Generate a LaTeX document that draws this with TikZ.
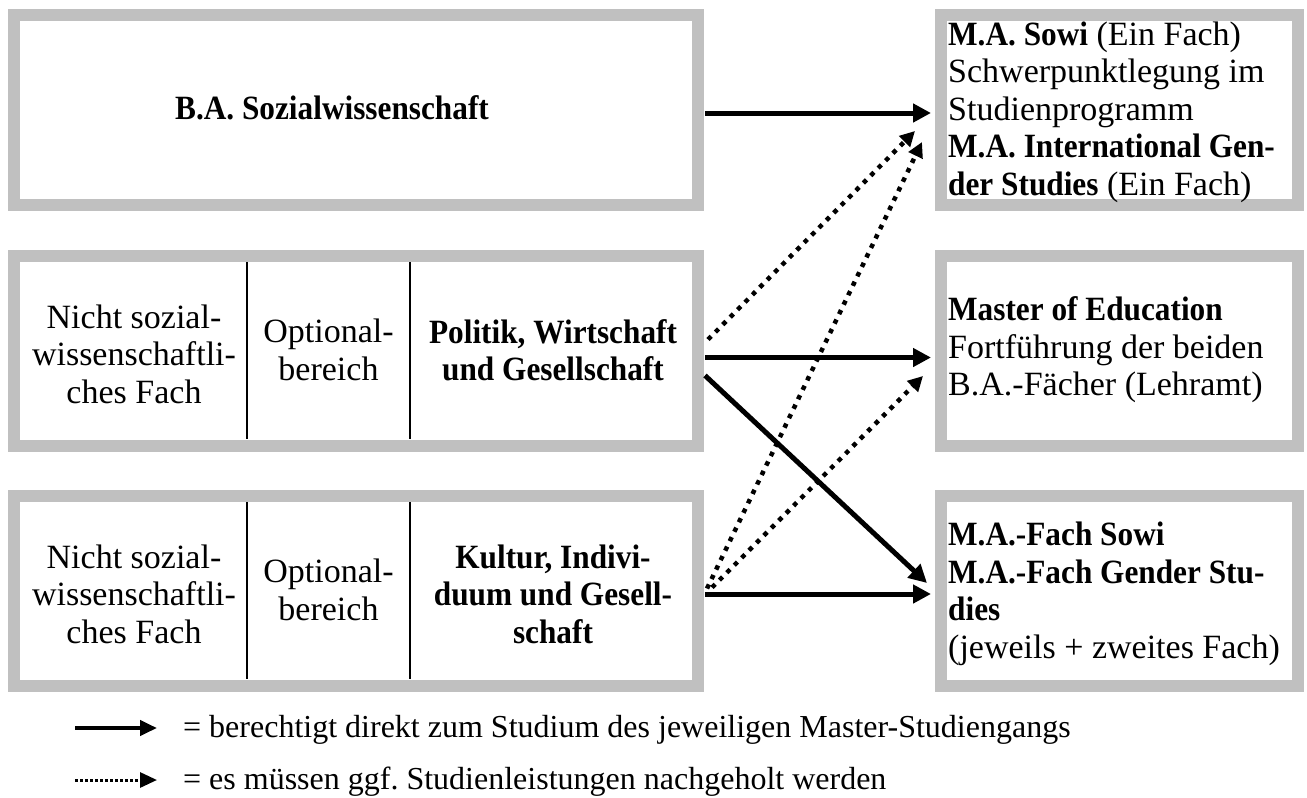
\documentclass[tikz,border=0pt]{standalone}
\usepackage{fontspec}
\setmainfont[BoldFeatures={FakeStretch=0.92}]{Liberation Serif}
\usetikzlibrary{arrows.meta,calc}
\definecolor{framegray}{HTML}{C0C0C0}
\frenchspacing
\begin{document}
\begin{tikzpicture}[x=1pt,y=-1pt,
  frame/.style={draw=framegray, line width=12pt, fill=white, inner sep=0pt,
    minimum width=684pt, minimum height=190pt},
  rframe/.style={frame, minimum width=357pt},
  txt/.style={font=\fontsize{34}{37.5}\selectfont, inner sep=0pt, align=center},
  ltxt/.style={txt, align=left, anchor=west},
  legtxt/.style={font=\fontsize{32}{37.5}\selectfont, inner sep=0pt, anchor=base west},
  divider/.style={line width=1.5pt},
  solidarrow/.style={line width=5pt, -{Triangle[length=18pt,width=18pt]}},
  dotarrow/.style={line width=4.5pt, dash pattern=on 4.5pt off 6pt,
    -{Triangle[length=15pt,width=15pt]}},
  legsolid/.style={line width=4pt, -{Triangle[length=17pt,width=15pt]}},
  legdot/.style={line width=3pt, dash pattern=on 2.5pt off 2.5pt,
    -{Triangle[length=17pt,width=15pt]}},
]
\useasboundingbox (0,0) rectangle (1307,798);
\fill[white] (0,0) rectangle (1307,798);

% frames
\node[frame]  (b1)  at (356,110)    {};
\node[rframe] (tr)  at (1119.5,110) {};
\node[frame]  (m1)  at (356,350.5)  {};
\node[rframe] (med) at (1119.5,350.5) {};
\node[frame]  (k1)  at (356,590.5)  {};
\node[rframe] (brt) at (1119.5,590.5) {};

% dividers
\draw[divider] (247,262) -- (247,439);
\draw[divider] (410,262) -- (410,439);
\draw[divider] (247,502) -- (247,679);
\draw[divider] (410,502) -- (410,679);

% texts
\node[txt] (bat) at (332,108) {\textbf{B.A. Sozialwissenschaft}};
\node[ltxt] (trt) at (948,112) {\textbf{M.A. Sowi} (Ein Fach)\\Schwerpunktlegung im\\Studienprogramm\\\textbf{M.A. International Gen-}\\\textbf{der Studies} (Ein Fach)};

\node[txt] (m1a) at (134,354) {Nicht sozial-\\wissenschaftli-\\ches Fach};
\node[txt] (m1b) at (328.5,350) {Optional-\\bereich};
\node[txt] (m1c) at (553,350) {\textbf{Politik, Wirtschaft}\\\textbf{und Gesellschaft}};
\node[ltxt] (medt) at (948,350) {\textbf{Master of Education}\\Fortführung der beiden\\B.A.-Fächer (Lehramt)};

\node[txt] (k1a) at (134,594) {Nicht sozial-\\wissenschaftli-\\ches Fach};
\node[txt] (k1b) at (328.5,590) {Optional-\\bereich};
\node[txt] (k1c) at (553,594) {\textbf{Kultur, Indivi-}\\\textbf{duum und Gesell-}\\\textbf{schaft}};
\node[ltxt] (brtt) at (948,594) {\textbf{M.A.-Fach Sowi}\\\textbf{M.A.-Fach Gender Stu-}\\\textbf{dies}\\(jeweils + zweites Fach)};

% connector end points
\coordinate (a1s) at ($(b1.east)+(1,3)$);
\coordinate (a1e) at ($(tr.west)+(-4,3)$);
\coordinate (a2s) at ($(m1.east)+(1,7)$);
\coordinate (a2e) at ($(med.west)+(-4,7)$);
\coordinate (a3s) at ($(m1.east)+(1,25)$);
\coordinate (a3e) at ($(brt.west)+(-8,-7.5)$);
\coordinate (a4s) at ($(m1.east)+(4,-11)$);
\coordinate (a4e) at ($(tr.west)+(-20,21)$);
\coordinate (a5s) at ($(k1.east)+(3,-2)$);
\coordinate (a5e) at ($(tr.west)+(-13,32)$);
\coordinate (a6s) at ($(k1.east)+(8,-3)$);
\coordinate (a6e) at ($(med.west)+(-12,25.5)$);
\coordinate (a7s) at ($(k1.east)+(1,3.5)$);
\coordinate (a7e) at ($(brt.west)+(-4,3.5)$);

\draw[solidarrow] (a1s) -- (a1e);
\draw[solidarrow] (a2s) -- (a2e);
\draw[solidarrow] (a3s) -- (a3e);
\draw[solidarrow] (a7s) -- (a7e);
\draw[dotarrow] (a4s) -- (a4e);
\draw[dotarrow] (a5s) -- (a5e);
\draw[dotarrow] (a6s) -- (a6e);

% legend
\coordinate (l1s) at (75,728);
\coordinate (l1e) at (157,728);
\coordinate (l2s) at (75,780);
\coordinate (l2e) at (157,780);
\draw[legsolid] (l1s) -- (l1e);
\draw[legdot] (l2s) -- (l2e);
\node[legtxt] (l1t) at (183,737) {= berechtigt direkt zum Studium des jeweiligen Master-Studiengangs};
\node[legtxt] (l2t) at (183,789) {= es müssen ggf. Studienleistungen nachgeholt werden};
\end{tikzpicture}
\end{document}
